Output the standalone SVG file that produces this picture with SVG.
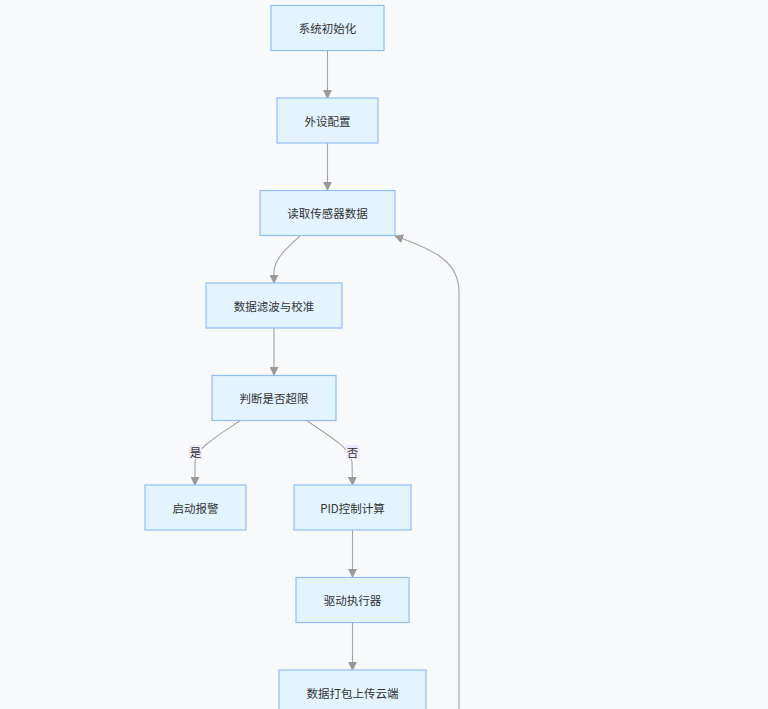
<svg xmlns="http://www.w3.org/2000/svg" width="768" height="709" viewBox="0 0 768 709">
<defs>
<style>
.node rect{fill:#e3f4ff;stroke:#93bdf8;stroke-width:1.2}
.node text,.lbl text{font-family:"Noto Sans CJK SC","Liberation Sans",sans-serif;font-size:11.5px;fill:#333;text-anchor:middle;dominant-baseline:central}
.edge{fill:none;stroke:#a3a3a3;stroke-width:1.1}
.lbl rect{fill:#f1e8fb}
</style>
<marker id="arr" viewBox="0 0 10 10" refX="9" refY="5" markerWidth="9" markerHeight="9" markerUnits="userSpaceOnUse" orient="auto">
<path d="M0,0 L10,5 L0,10 z" fill="#999"/>
</marker>
</defs>
<rect width="768" height="709" fill="#f8f9fb"/>
<g id="edges">
<path class="edge" d="M327.5,50 L327.5,98" marker-end="url(#arr)"/>
<path class="edge" d="M327.5,143 L327.5,190" marker-end="url(#arr)"/>
<path class="edge" d="M300,236 C286,249 274,259 274,272 L274,283" marker-end="url(#arr)"/>
<path class="edge" d="M274,328 L274,375" marker-end="url(#arr)"/>
<path class="edge" d="M241,420 C216,437 196,448 195,462 L195,485" marker-end="url(#arr)"/>
<path class="edge" d="M306,420 C330,437 351,448 352,462 L352.5,485" marker-end="url(#arr)"/>
<path class="edge" d="M352.5,530 L352.5,577" marker-end="url(#arr)"/>
<path class="edge" d="M352.5,622 L352.5,670" marker-end="url(#arr)"/>
<path class="edge" d="M459,709 L459,292 C459,262 435,250 395,236" marker-end="url(#arr)"/>
<g class="lbl"><rect x="189" y="445" width="13" height="14"/><text x="195.5" y="452">是</text></g>
<g class="lbl"><rect x="346" y="445" width="13" height="14"/><text x="352.5" y="452">否</text></g>
</g>
<g id="n1" class="node"><rect x="271" y="5.5" width="113" height="45"/><text x="327.5" y="28">系统初始化</text></g>
<g id="n2" class="node"><rect x="277" y="98" width="101" height="45"/><text x="327.5" y="120.5">外设配置</text></g>
<g id="n3" class="node"><rect x="260" y="190.5" width="135" height="45"/><text x="327.5" y="213">读取传感器数据</text></g>
<g id="n4" class="node"><rect x="206" y="283" width="136" height="45"/><text x="274" y="305.5">数据滤波与校准</text></g>
<g id="n5" class="node"><rect x="212" y="375.5" width="124" height="45"/><text x="274" y="398">判断是否超限</text></g>
<g id="n6" class="node"><rect x="145" y="485" width="101" height="45"/><text x="195.5" y="507.5">启动报警</text></g>
<g id="n7" class="node"><rect x="294" y="485" width="117" height="45"/><text x="352.5" y="507.5">PID控制计算</text></g>
<g id="n8" class="node"><rect x="296" y="577.5" width="113" height="45"/><text x="352.5" y="600">驱动执行器</text></g>
<g id="n9" class="node"><rect x="279" y="670" width="147" height="45"/><text x="352.5" y="692.5">数据打包上传云端</text></g>
</svg>
